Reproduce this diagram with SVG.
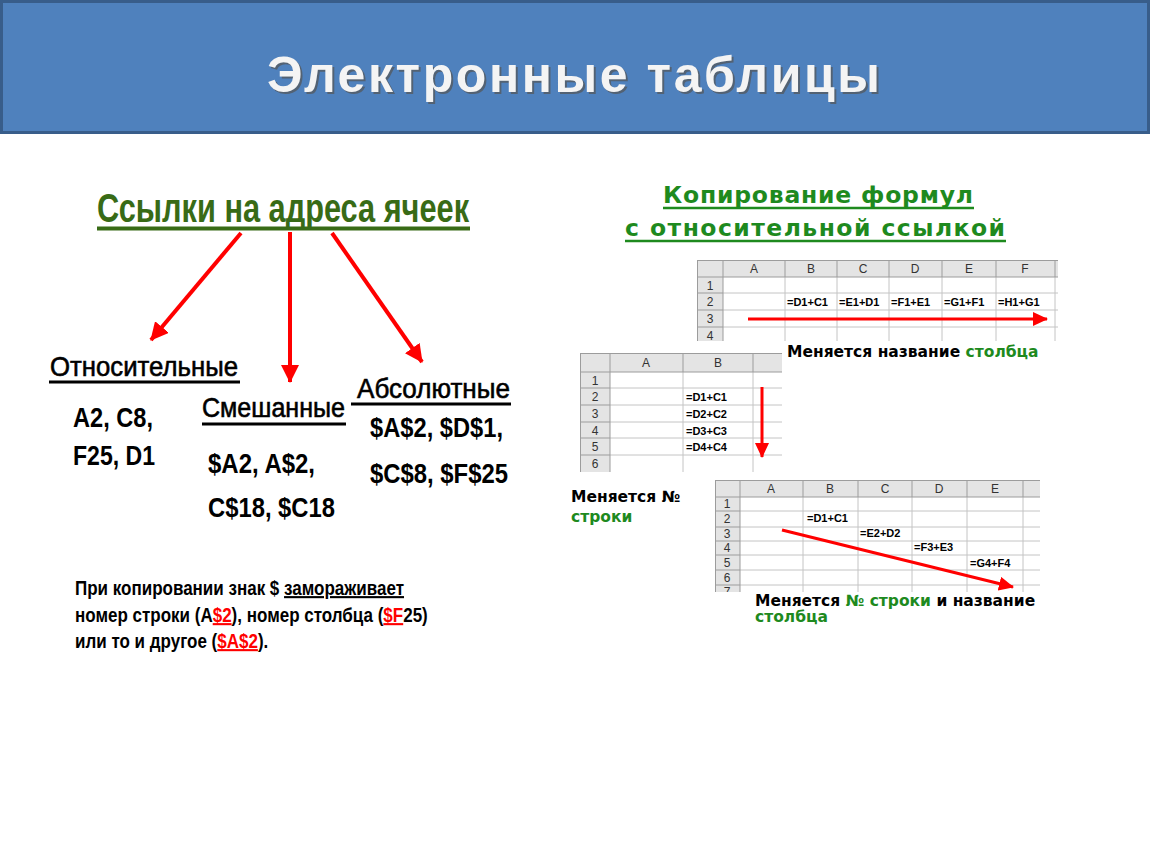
<svg xmlns="http://www.w3.org/2000/svg" width="1150" height="864" viewBox="0 0 1150 864">
<style>
.narrow{font-family:"Liberation Sans",Arial,sans-serif}
.lbl{font-size:28px;fill:#000;stroke:#000;stroke-width:0.6}
.val{font-size:28px;font-weight:bold;fill:#000}
.hdr{font-family:"Liberation Sans",Arial,sans-serif;font-size:12px;fill:#333;text-anchor:middle}
.rn{font-family:"Liberation Sans",Arial,sans-serif;font-size:12px;fill:#333;text-anchor:middle}
.f{font-family:"Liberation Sans",Arial,sans-serif;font-size:11px;font-weight:bold;fill:#000}
.grid{stroke:#c4c4c4;stroke-width:1}
.hgrid{stroke:#9c9c9c;stroke-width:1}
.cap{font-family:"DejaVu Sans",Verdana,sans-serif;font-size:15.5px;font-weight:bold;fill:#000}
.grn{fill:#1e8a1e}
.red{stroke:#ff0000;stroke-width:4;fill:none}
</style>
<defs>
<marker id="ah" markerUnits="userSpaceOnUse" markerWidth="20" markerHeight="18" refX="17" refY="9" orient="auto">
<path d="M0,0 L18,9 L0,18 Z" fill="#ff0000"/>
</marker>
<marker id="ahs" markerUnits="userSpaceOnUse" markerWidth="16" markerHeight="14" refX="14" refY="7" orient="auto">
<path d="M0,0 L15,7 L0,14 Z" fill="#ff0000"/>
</marker>
</defs>
<rect width="1150" height="864" fill="#ffffff"/>
<g id="title">
<rect x="1.5" y="1.5" width="1147" height="131" fill="#4f81bd" stroke="#385d8a" stroke-width="3"/>
<text x="269" y="94" font-family="Liberation Sans,Arial,sans-serif" font-size="50" font-weight="bold" fill="#555" opacity="0.7" textLength="613" lengthAdjust="spacing">Электронные таблицы</text>
<text x="267" y="92" font-family="Liberation Sans,Arial,sans-serif" font-size="50" font-weight="bold" fill="#f4f4f4" textLength="613" lengthAdjust="spacing">Электронные таблицы</text>
</g>
<g id="heading-left">
<text x="97" y="222" class="narrow" font-size="41" font-weight="bold" fill="#386b16" textLength="372" lengthAdjust="spacingAndGlyphs">Ссылки на адреса ячеек</text>
<line x1="97" y1="228.5" x2="470" y2="228.5" stroke="#386b16" stroke-width="4"/>
</g>
<g id="node-relative">
<text x="50" y="376" class="narrow lbl" textLength="188" lengthAdjust="spacingAndGlyphs">Относительные</text>
<line x1="49" y1="382" x2="240" y2="382" stroke="#000" stroke-width="3"/>
<text x="73" y="427" class="narrow val" textLength="80" lengthAdjust="spacingAndGlyphs">A2, C8,</text>
<text x="73" y="465" class="narrow val" textLength="82" lengthAdjust="spacingAndGlyphs">F25, D1</text>
</g>
<g id="node-mixed">
<text x="202" y="417" class="narrow lbl" textLength="143" lengthAdjust="spacingAndGlyphs">Смешанные</text>
<line x1="202" y1="424" x2="346" y2="424" stroke="#000" stroke-width="3"/>
<text x="208" y="473" class="narrow val" textLength="107" lengthAdjust="spacingAndGlyphs">$A2, A$2,</text>
<text x="208" y="517" class="narrow val" textLength="127" lengthAdjust="spacingAndGlyphs">C$18, $C18</text>
</g>
<g id="node-absolute">
<text x="357" y="398" class="narrow lbl" textLength="153" lengthAdjust="spacingAndGlyphs">Абсолютные</text>
<line x1="351" y1="404" x2="511" y2="404" stroke="#000" stroke-width="3"/>
<text x="370" y="437" class="narrow val" textLength="133" lengthAdjust="spacingAndGlyphs">$A$2, $D$1,</text>
<text x="370" y="483" class="narrow val" textLength="138" lengthAdjust="spacingAndGlyphs">$C$8, $F$25</text>
</g>
<g id="connectors">
<line x1="241" y1="233" x2="151" y2="340" class="red" marker-end="url(#ah)"/>
<line x1="290" y1="232" x2="290" y2="382" class="red" marker-end="url(#ah)"/>
<line x1="332" y1="233" x2="422" y2="362" class="red" marker-end="url(#ah)"/>
</g>
<g id="note" transform="translate(75,0) scale(0.81,1)" font-family="Liberation Sans,Arial,sans-serif" font-size="21" font-weight="bold" fill="#000">
<text x="0" y="595">При копировании знак $ <tspan text-decoration="underline">замораживает</tspan></text>
<text x="0" y="622">номер строки (А<tspan fill="#ff0000" text-decoration="underline">$2</tspan>), номер столбца (<tspan fill="#ff0000" text-decoration="underline">$F</tspan>25)</text>
<text x="0" y="648">или то и другое (<tspan fill="#ff0000" text-decoration="underline">$A$2</tspan>).</text>
</g>
<g id="heading-right" font-family="DejaVu Sans,Verdana,sans-serif" font-size="23.5" font-weight="bold" fill="#1e8a1e">
<text x="663" y="203" textLength="310" lengthAdjust="spacing">Копирование формул</text>
<line x1="663" y1="208" x2="974" y2="208" stroke="#1e8a1e" stroke-width="2.5"/>
<text x="625" y="236" textLength="380" lengthAdjust="spacing">с относительной ссылкой</text>
<line x1="625" y1="241" x2="1006" y2="241" stroke="#1e8a1e" stroke-width="2.5"/>
</g>
<g id="sheet-top">
<rect x="697" y="260" width="361" height="81" fill="#fff"/>
<rect x="697" y="260" width="361" height="17" fill="#e4e4e4"/>
<rect x="697" y="277" width="26" height="64" fill="#e4e4e4"/>
<g class="grid">
<line x1="723" y1="293" x2="1058" y2="293"/><line x1="723" y1="310" x2="1058" y2="310"/><line x1="723" y1="327" x2="1058" y2="327"/>
<line x1="785" y1="277" x2="785" y2="341"/><line x1="837" y1="277" x2="837" y2="341"/><line x1="889" y1="277" x2="889" y2="341"/><line x1="942" y1="277" x2="942" y2="341"/><line x1="996" y1="277" x2="996" y2="341"/><line x1="1055" y1="277" x2="1055" y2="341"/>
</g>
<g class="hgrid">
<line x1="697" y1="260.5" x2="1058" y2="260.5"/><line x1="697" y1="277" x2="1058" y2="277"/>
<line x1="697.5" y1="260" x2="697.5" y2="341"/><line x1="723" y1="260" x2="723" y2="341"/>
<line x1="697" y1="293" x2="723" y2="293"/><line x1="697" y1="310" x2="723" y2="310"/><line x1="697" y1="327" x2="723" y2="327"/>
<line x1="785" y1="260" x2="785" y2="277"/><line x1="837" y1="260" x2="837" y2="277"/><line x1="889" y1="260" x2="889" y2="277"/><line x1="942" y1="260" x2="942" y2="277"/><line x1="996" y1="260" x2="996" y2="277"/><line x1="1055" y1="260" x2="1055" y2="277"/>
</g>
<text class="hdr" x="754" y="273">A</text><text class="hdr" x="811" y="273">B</text><text class="hdr" x="863" y="273">C</text><text class="hdr" x="915" y="273">D</text><text class="hdr" x="969" y="273">E</text><text class="hdr" x="1025" y="273">F</text>
<text class="rn" x="710" y="290">1</text><text class="rn" x="710" y="306">2</text><text class="rn" x="710" y="323">3</text><text class="rn" x="710" y="340">4</text>
<text class="f" x="787" y="306">=D1+C1</text><text class="f" x="839" y="306">=E1+D1</text><text class="f" x="891" y="306">=F1+E1</text><text class="f" x="944" y="306">=G1+F1</text><text class="f" x="998" y="306">=H1+G1</text>
<line x1="748" y1="319" x2="1047" y2="319" stroke="#ff0000" stroke-width="3" marker-end="url(#ahs)"/>
</g>
<g id="caption-top">
<text class="cap" x="787" y="357">Меняется название <tspan class="grn">столбца</tspan></text>
</g>
<g id="sheet-middle">
<rect x="580" y="353" width="202" height="119" fill="#fff"/>
<rect x="580" y="353" width="202" height="19" fill="#e4e4e4"/>
<rect x="580" y="372" width="30" height="100" fill="#e4e4e4"/>
<g class="grid">
<line x1="610" y1="388" x2="782" y2="388"/><line x1="610" y1="405" x2="782" y2="405"/><line x1="610" y1="422" x2="782" y2="422"/><line x1="610" y1="438" x2="782" y2="438"/><line x1="610" y1="455" x2="782" y2="455"/>
<line x1="683" y1="372" x2="683" y2="472"/><line x1="753" y1="372" x2="753" y2="472"/>
</g>
<g class="hgrid">
<line x1="580" y1="353.5" x2="782" y2="353.5"/><line x1="580" y1="372" x2="782" y2="372"/>
<line x1="580.5" y1="353" x2="580.5" y2="472"/><line x1="610" y1="353" x2="610" y2="472"/>
<line x1="580" y1="388" x2="610" y2="388"/><line x1="580" y1="405" x2="610" y2="405"/><line x1="580" y1="422" x2="610" y2="422"/><line x1="580" y1="438" x2="610" y2="438"/><line x1="580" y1="455" x2="610" y2="455"/>
<line x1="683" y1="353" x2="683" y2="372"/><line x1="753" y1="353" x2="753" y2="372"/>
</g>
<text class="hdr" x="646" y="367">A</text><text class="hdr" x="718" y="367">B</text>
<text class="rn" x="595" y="385">1</text><text class="rn" x="595" y="401">2</text><text class="rn" x="595" y="418">3</text><text class="rn" x="595" y="435">4</text><text class="rn" x="595" y="451">5</text><text class="rn" x="595" y="468">6</text>
<text class="f" x="686" y="401">=D1+C1</text><text class="f" x="686" y="418">=D2+C2</text><text class="f" x="686" y="435">=D3+C3</text><text class="f" x="686" y="451">=D4+C4</text>
<line x1="762" y1="387" x2="762" y2="457" stroke="#ff0000" stroke-width="3" marker-end="url(#ahs)"/>
</g>
<g id="caption-middle">
<text class="cap" x="571" y="502">Меняется №</text>
<text class="cap grn" x="571" y="522">строки</text>
</g>
<g id="sheet-bottom">
<rect x="715" y="480" width="325" height="112" fill="#fff"/>
<rect x="715" y="480" width="325" height="17" fill="#e4e4e4"/>
<rect x="715" y="497" width="25" height="95" fill="#e4e4e4"/>
<g class="grid">
<line x1="740" y1="511" x2="1040" y2="511"/><line x1="740" y1="527" x2="1040" y2="527"/><line x1="740" y1="541" x2="1040" y2="541"/><line x1="740" y1="555" x2="1040" y2="555"/><line x1="740" y1="570" x2="1040" y2="570"/><line x1="740" y1="585" x2="1040" y2="585"/>
<line x1="803" y1="497" x2="803" y2="592"/><line x1="858" y1="497" x2="858" y2="592"/><line x1="912" y1="497" x2="912" y2="592"/><line x1="967" y1="497" x2="967" y2="592"/><line x1="1023" y1="497" x2="1023" y2="592"/>
</g>
<g class="hgrid">
<line x1="715" y1="480.5" x2="1040" y2="480.5"/><line x1="715" y1="497" x2="1040" y2="497"/>
<line x1="715.5" y1="480" x2="715.5" y2="592"/><line x1="740" y1="480" x2="740" y2="592"/>
<line x1="715" y1="511" x2="740" y2="511"/><line x1="715" y1="527" x2="740" y2="527"/><line x1="715" y1="541" x2="740" y2="541"/><line x1="715" y1="555" x2="740" y2="555"/><line x1="715" y1="570" x2="740" y2="570"/><line x1="715" y1="585" x2="740" y2="585"/>
<line x1="803" y1="480" x2="803" y2="497"/><line x1="858" y1="480" x2="858" y2="497"/><line x1="912" y1="480" x2="912" y2="497"/><line x1="967" y1="480" x2="967" y2="497"/><line x1="1023" y1="480" x2="1023" y2="497"/>
</g>
<text class="hdr" x="771" y="493">A</text><text class="hdr" x="830" y="493">B</text><text class="hdr" x="885" y="493">C</text><text class="hdr" x="939" y="493">D</text><text class="hdr" x="995" y="493">E</text>
<text class="rn" x="727" y="508">1</text><text class="rn" x="727" y="523">2</text><text class="rn" x="727" y="538">3</text><text class="rn" x="727" y="552">4</text><text class="rn" x="727" y="567">5</text><text class="rn" x="727" y="582">6</text><text class="rn" x="727" y="596">7</text>
<rect x="715" y="592" width="60" height="8" fill="#fff"/>
<text class="f" x="807" y="522">=D1+C1</text><text class="f" x="860" y="537">=E2+D2</text><text class="f" x="914" y="551">=F3+E3</text><text class="f" x="970" y="567">=G4+F4</text>
<line x1="782" y1="530" x2="1013" y2="587" stroke="#ff0000" stroke-width="3" marker-end="url(#ahs)"/>
</g>
<g id="caption-bottom">
<text class="cap" x="755" y="606">Меняется <tspan class="grn">№ строки</tspan> и название</text>
<text class="cap grn" x="755" y="622">столбца</text>
</g>
</svg>
